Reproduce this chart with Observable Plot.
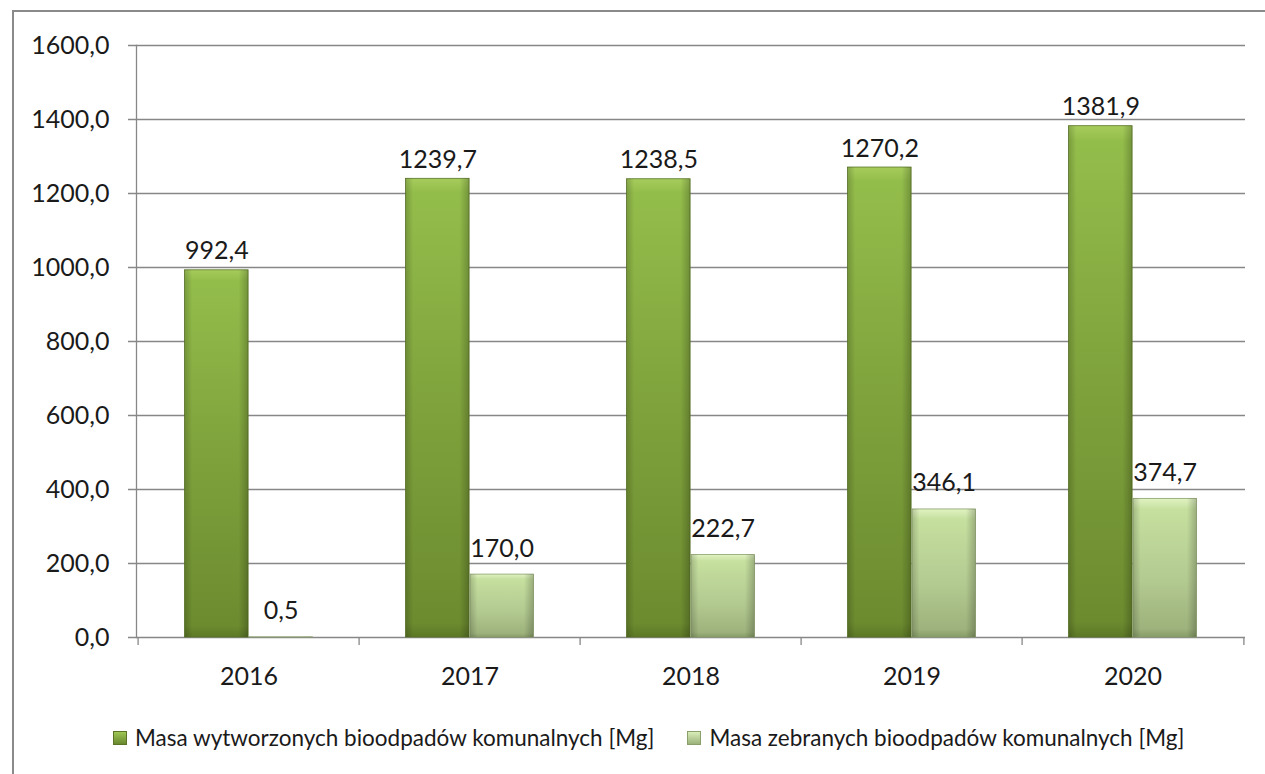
<!DOCTYPE html>
<html>
<head>
<meta charset="utf-8">
<script src="https://cdn.jsdelivr.net/npm/d3@7"></script>
<script src="https://cdn.jsdelivr.net/npm/@observablehq/plot@0.6"></script>
<style>
  html, body { margin: 0; padding: 0; background: #fff; overflow: hidden; }
  body { width: 1265px; height: 774px; position: relative; font-family: Lato, "Open Sans", sans-serif; }
  #frame { position: absolute; left: 12px; top: 10px; width: 1400px; height: 900px; border-top: 2px solid #8a8a8a; border-left: 2px solid #8a8a8a; box-sizing: border-box; }
  #chart { position: absolute; left: 0; top: 0; }
  #legend { position: absolute; left: 113px; top: 724px; display: flex; align-items: center; font-size: 22.5px; color: #1a1a1a; white-space: nowrap; }
  .item { display: flex; align-items: center; margin-right: 33px; }
  .sw { width: 14px; height: 14px; margin-right: 8px; box-sizing: border-box; }
</style>
</head>
<body>
<div id="frame"></div>
<div id="chart"></div>
<div id="legend"></div>
<script>
const years = ["2016", "2017", "2018", "2019", "2020"];
const generated = [992.4, 1239.7, 1238.5, 1270.2, 1381.9];
const collected = [0.5, 170.0, 222.7, 346.1, 374.7];
const seriesNames = ["Masa wytworzonych bioodpadów komunalnych [Mg]", "Masa zebranych bioodpadów komunalnych [Mg]"];
const yTicks = [0, 200, 400, 600, 800, 1000, 1200, 1400, 1600];

const W = 1265, H = 690, mL = 136, mR = 20, mT = 45, mB = 53;
const step = (W - mL - mR) / years.length;
const groupW = step * 0.58;
const off = (step - groupW) / 2;

const gen = years.map((y, i) => ({year: y, value: generated[i]}));
const col = years.map((y, i) => ({year: y, value: collected[i]}));
const fmt = d => d.toFixed(1).replace(".", ",");
const gridColor = "#878787";
const font = "Lato, 'Open Sans', sans-serif";
const fs = 25;

const chart = Plot.plot({
  width: W, height: H,
  marginLeft: mL, marginRight: mR, marginTop: mT, marginBottom: mB,
  style: {fontFamily: font, fontSize: fs + "px", color: "#1a1a1a", background: "transparent", overflow: "visible"},
  x: {domain: years, padding: 0, label: null},
  y: {domain: [0, 1600], label: null},
  marks: [
    Plot.ruleY(yTicks, {stroke: gridColor, strokeWidth: 1.3, insetLeft: -8}),
    Plot.frame({anchor: "left", stroke: gridColor, strokeWidth: 1.3}),
    Plot.ruleX(years, {x: d => d, y1: 0, y2: 0, dx: -step / 2, insetBottom: -8, stroke: gridColor, strokeWidth: 1.3}),
    Plot.ruleX(years.slice(-1), {x: d => d, y1: 0, y2: 0, dx: step / 2, insetBottom: -8, stroke: gridColor, strokeWidth: 1.3}),
    Plot.axisY({ticks: yTicks, tickSize: 0, tickPadding: 27, tickFormat: fmt, fontSize: fs, fill: "#1a1a1a"}),
    Plot.axisX({tickSize: 0, tickPadding: 30, fontSize: fs, fill: "#1a1a1a"}),
    // bars: generated (dark)
    Plot.barY(gen, {x: "year", y: "value", insetLeft: off, insetRight: off + groupW / 2, fill: "url(#gDark)", stroke: "#5a7526", strokeWidth: 0.8}),
    Plot.barY(gen, {x: "year", y: "value", insetLeft: off, insetRight: off + groupW / 2, fill: "url(#gEdge)"}),
    // bars: collected (light)
    Plot.barY(col, {x: "year", y: "value", insetLeft: off + groupW / 2, insetRight: off, fill: "url(#gLight)", stroke: "#8aa06a", strokeWidth: 0.8}),
    Plot.barY(col, {x: "year", y: "value", insetLeft: off + groupW / 2, insetRight: off, fill: "url(#gEdge)"}),
    // labels
    Plot.text(gen, {x: "year", y: "value", text: d => fmt(d.value), dx: -groupW / 4, dy: -11, lineAnchor: "bottom", fontSize: fs, fill: "#1a1a1a"}),
    Plot.text(col, {x: "year", y: "value", text: d => fmt(d.value), dx: groupW / 4, dy: -18, lineAnchor: "bottom", fontSize: fs, fill: "#1a1a1a"})
  ]
});

const svgns = "http://www.w3.org/2000/svg";
const defs = document.createElementNS(svgns, "defs");
defs.innerHTML = `
  <linearGradient id="gDark" x1="0" y1="0" x2="0" y2="1">
    <stop offset="0" stop-color="#a6cc5c"/>
    <stop offset="0.03" stop-color="#93bd4b"/>
    <stop offset="0.5" stop-color="#7fa23c"/>
    <stop offset="0.97" stop-color="#6c8b2f"/>
    <stop offset="1" stop-color="#5c7826"/>
  </linearGradient>
  <linearGradient id="gLight" x1="0" y1="0" x2="0" y2="1">
    <stop offset="0" stop-color="#e0f2c2"/>
    <stop offset="0.08" stop-color="#c6e09f"/>
    <stop offset="0.6" stop-color="#b2c990"/>
    <stop offset="0.94" stop-color="#9db27c"/>
    <stop offset="1" stop-color="#879c68"/>
  </linearGradient>
  <linearGradient id="gEdge" x1="0" y1="0" x2="1" y2="0">
    <stop offset="0" stop-color="#000" stop-opacity="0.18"/>
    <stop offset="0.12" stop-color="#000" stop-opacity="0"/>
    <stop offset="0.85" stop-color="#000" stop-opacity="0"/>
    <stop offset="1" stop-color="#000" stop-opacity="0.22"/>
  </linearGradient>`;
chart.insertBefore(defs, chart.firstChild);
document.getElementById("chart").appendChild(chart);

const swStyles = [
  "background: linear-gradient(#9fc755, #6a882e); border: 1px solid #5a7526;",
  "background: linear-gradient(#d8edb8, #9cb27b); border: 1px solid #8aa06a;"
];
const legend = document.getElementById("legend");
seriesNames.forEach((name, i) => {
  const it = document.createElement("div");
  it.className = "item";
  it.innerHTML = `<div class="sw" style="${swStyles[i]}"></div><span>${name}</span>`;
  legend.appendChild(it);
});
</script>
</body>
</html>
